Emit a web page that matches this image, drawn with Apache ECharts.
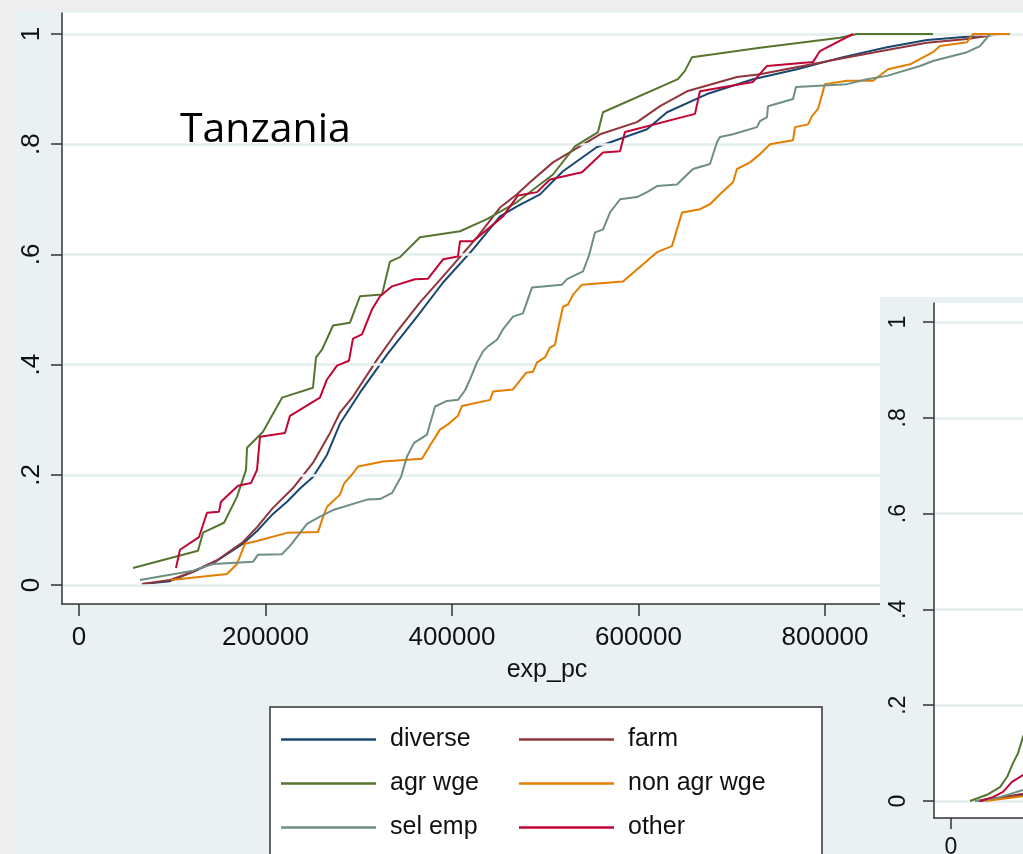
<!DOCTYPE html>
<html>
<head>
<meta charset="utf-8">
<script src="https://cdn.jsdelivr.net/npm/echarts@6/dist/echarts.min.js"></script>
<style>
  html, body { margin: 0; padding: 0; background: #eeeeee; }
  #chart { width: 1023px; height: 854px; }
</style>
</head>
<body>
<div id="chart"></div>
<script>
// Cumulative distribution of per-capita expenditure by livelihood group, Tanzania
const groupNames = ['diverse', 'farm', 'agr wge', 'non agr wge', 'sel emp', 'other'];
const groupColors = ['#1a476f', '#90353b', '#55752f', '#e37e00', '#6e8e84', '#c10534'];

const xTicks = [0, 200000, 400000, 600000, 800000];
const yTicks = [0, 0.2, 0.4, 0.6, 0.8, 1];
const yTickLabels = ['0', '.2', '.4', '.6', '.8', '1'];

// [exp_pc, cumulative share]
const diverse = [[67600,0.002],[97600,0.007],[122300,0.024],[148000,0.044],[175900,0.075],[190900,0.098],[208000,0.129],[223100,0.151],[237000,0.175],[250900,0.196],[265900,0.236],[279900,0.293],[301300,0.349],[330300,0.418],[362500,0.487],[390400,0.549],[422500,0.609],[451500,0.669],[469700,0.687],[494400,0.709],[519000,0.751],[555500,0.795],[609100,0.827],[630600,0.858],[673500,0.891],[722800,0.918],[770000,0.936],[819300,0.958],[866500,0.976],[909400,0.989],[952300,0.995],[977000,1]];
const farm = [[67600,0.002],[97600,0.009],[122300,0.024],[148000,0.045],[175900,0.078],[190900,0.105],[208000,0.140],[229500,0.176],[251000,0.222],[269200,0.276],[279900,0.313],[293800,0.342],[319600,0.409],[341000,0.460],[365700,0.513],[390400,0.560],[426800,0.631],[451500,0.685],[469700,0.709],[483600,0.731],[508300,0.767],[558700,0.818],[598400,0.840],[623100,0.869],[652000,0.896],[705600,0.922],[730300,0.927],[816100,0.955],[866500,0.971],[909400,0.984],[952300,0.991],[987700,1]];
const agrWge = [[57900,0.031],[127600,0.062],[133000,0.095],[155500,0.113],[169400,0.160],[179100,0.209],[180200,0.249],[197300,0.278],[217700,0.340],[250900,0.358],[254200,0.413],[260600,0.427],[272400,0.471],[290600,0.476],[301300,0.524],[324900,0.527],[333500,0.587],[344200,0.595],[365700,0.631],[408600,0.642],[437500,0.664],[469700,0.695],[508300,0.745],[531900,0.796],[556600,0.822],[561900,0.858],[642300,0.918],[649800,0.933],[657400,0.958],[730300,0.975],[816100,0.993],[834300,1],[915800,1]];
const nonAgrWge = [[98700,0.009],[158700,0.020],[169400,0.038],[178000,0.075],[190900,0.080],[224100,0.095],[256300,0.096],[260600,0.118],[266000,0.142],[279900,0.164],[284200,0.184],[294900,0.205],[299200,0.215],[326000,0.224],[367800,0.229],[376400,0.253],[387100,0.282],[396800,0.293],[406400,0.307],[410700,0.325],[440800,0.336],[444000,0.351],[465400,0.355],[479400,0.385],[486900,0.387],[491200,0.404],[499700,0.413],[505100,0.431],[510400,0.436],[513700,0.464],[519000,0.505],[524400,0.509],[529800,0.527],[539400,0.545],[583400,0.551],[619900,0.604],[635900,0.615],[646700,0.676],[666000,0.682],[676700,0.691],[687400,0.709],[701300,0.731],[705600,0.755],[719600,0.767],[730300,0.782],[741000,0.800],[765700,0.807],[767800,0.831],[781800,0.836],[786100,0.851],[792500,0.864],[800000,0.909],[823600,0.915],[851500,0.915],[867600,0.936],[891200,0.945],[915800,0.967],[923300,0.978],[952300,0.985],[958700,1],[998400,1]];
const selEmp = [[65400,0.009],[122300,0.026],[143700,0.038],[186600,0.042],[192000,0.055],[217700,0.056],[226300,0.071],[244500,0.111],[258400,0.124],[272400,0.136],[308900,0.155],[322800,0.156],[335700,0.167],[345300,0.196],[351700,0.233],[359300,0.258],[367800,0.267],[373200,0.273],[381800,0.324],[394600,0.334],[406400,0.336],[413900,0.353],[419300,0.373],[426800,0.404],[433300,0.424],[438600,0.433],[448300,0.445],[454700,0.464],[465400,0.487],[476100,0.493],[485800,0.540],[518000,0.545],[523300,0.555],[540500,0.569],[546900,0.598],[553400,0.640],[561900,0.645],[569400,0.676],[580200,0.700],[598400,0.704],[609100,0.713],[619900,0.724],[641300,0.727],[646700,0.736],[658400,0.755],[676700,0.764],[684200,0.804],[687400,0.813],[701300,0.818],[727100,0.831],[730300,0.842],[737800,0.849],[738900,0.869],[765700,0.882],[768900,0.904],[823600,0.909],[845000,0.918],[866500,0.924],[901900,0.942],[915800,0.951],[952300,0.967],[966200,0.978],[977000,1]];
const other = [[104000,0.031],[108300,0.064],[128700,0.087],[137300,0.131],[150100,0.133],[152300,0.151],[170500,0.180],[184400,0.185],[190900,0.209],[194100,0.269],[220900,0.276],[226300,0.307],[258400,0.340],[265900,0.373],[276700,0.398],[289500,0.407],[293800,0.447],[303500,0.455],[314200,0.500],[322800,0.524],[335700,0.542],[360300,0.555],[374300,0.556],[390400,0.591],[406400,0.596],[408600,0.624],[422500,0.624],[454700,0.669],[470800,0.707],[491200,0.713],[505100,0.736],[539400,0.749],[561900,0.785],[580200,0.787],[585500,0.822],[660600,0.855],[665900,0.896],[722800,0.913],[737800,0.942],[787100,0.949],[794600,0.969],[830000,1]];

// Second panel: lower tail of the same groups
const diverseB = [[29000,0],[77200,0.0125],[95000,0.023]];
const farmB = [[31100,0],[77200,0.015],[95000,0.025]];
const agrWgeB = [[20400,0],[38600,0.013],[52500,0.029],[60100,0.050],[66500,0.079],[71900,0.100],[77200,0.134],[84700,0.169],[95000,0.21]];
const nonAgrWgeB = [[36500,0],[77200,0.010],[95000,0.019]];
const selEmpB = [[25700,0],[52500,0.008],[77200,0.023],[95000,0.035]];
const otherB = [[31100,0],[45000,0.008],[55800,0.019],[65400,0.040],[77200,0.054],[95000,0.075]];

const mainSeries = [diverse, farm, agrWge, nonAgrWge, selEmp, other];
const insetSeries = [diverseB, farmB, agrWgeB, nonAgrWgeB, selEmpB, otherB];

const labelFont = 'Liberation Sans, Arial, Helvetica, sans-serif';
const regionColor = '#e9f1f3';
const gridColor = '#e4eef1';
const axisColor = '#333333';

function yFmt(v) {
  const i = yTicks.findIndex(t => Math.abs(t - v) < 1e-9);
  return i >= 0 ? yTickLabels[i] : '';
}
function xFmt(v) {
  return String(Math.round(v));
}

function makeX(gridIndex, min, max, z, fontSize, tickLen, margin) {
  return {
    type: 'value', gridIndex, min, max, z,
    axisLine: { show: true, onZero: false, lineStyle: { color: axisColor, width: 1.5 } },
    axisTick: { show: true, length: tickLen, customValues: xTicks, lineStyle: { color: axisColor, width: 1.5 } },
    axisLabel: { customValues: xTicks, margin, fontSize, fontFamily: labelFont, color: '#111', formatter: xFmt },
    splitLine: { show: false }
  };
}
function makeY(gridIndex, min, max, z, fontSize, tickLen, margin) {
  return {
    type: 'value', gridIndex, min, max, z,
    axisLine: { show: true, onZero: false, lineStyle: { color: axisColor, width: 1.5 } },
    axisTick: { show: true, length: tickLen, customValues: yTicks, lineStyle: { color: axisColor, width: 1.5 } },
    axisLabel: { customValues: yTicks, rotate: 90, margin, fontSize, fontFamily: labelFont, color: '#111', formatter: yFmt },
    splitLine: { show: true, lineStyle: { color: gridColor, width: 2.5 } }
  };
}

const series = [];
groupNames.forEach((name, i) => {
  series.push({
    name, type: 'line', xAxisIndex: 0, yAxisIndex: 0,
    data: mainSeries[i], showSymbol: false, symbol: 'none',
    lineStyle: { color: groupColors[i], width: 2 }, itemStyle: { color: groupColors[i] },
    z: 3 + i
  });
});
groupNames.forEach((name, i) => {
  series.push({
    name, type: 'line', xAxisIndex: 1, yAxisIndex: 1,
    data: insetSeries[i], showSymbol: false, symbol: 'none',
    lineStyle: { color: groupColors[i], width: 2 }, itemStyle: { color: groupColors[i] },
    z: 60 + i
  });
});

const legendCommon = {
  orient: 'vertical', top: 727, padding: 0, itemGap: 19,
  itemWidth: 95, itemHeight: 2.5, icon: 'rect',
  textStyle: { fontSize: 25, fontFamily: labelFont, color: '#111', padding: [0, 0, 0, 9] },
  z: 20
};

const chart = echarts.init(document.getElementById('chart'), null, { renderer: 'canvas' });
chart.setOption({
  animation: false,
  backgroundColor: '#eeeeee',
  graphic: [
    { type: 'rect', z: -5, shape: { x: 16, y: 10, width: 1010, height: 850 }, style: { fill: regionColor } },
    { type: 'text', z: 10, left: 180, top: 110, style: { text: 'Tanzania', fontSize: 41, fontFamily: 'Open Sans, Noto Sans, sans-serif', fill: '#000' } },
    { type: 'rect', z: 15, shape: { x: 270, y: 707, width: 552, height: 200 }, style: { fill: '#ffffff', stroke: '#333333', lineWidth: 1.5 } },
    { type: 'rect', z: 50, shape: { x: 880, y: 297, width: 200, height: 600 }, style: { fill: regionColor } }
  ],
  grid: [
    { left: 62, top: 13, width: 970, height: 591, show: true, backgroundColor: '#ffffff', borderWidth: 0, z: 2, containLabel: false, outerBoundsMode: 'none' },
    { left: 934, top: 303, width: 1000, height: 515, show: true, backgroundColor: '#ffffff', borderWidth: 0, z: 51, containLabel: false, outerBoundsMode: 'none' }
  ],
  xAxis: [
    Object.assign(makeX(0, -18231, 1022000, 5, 26, 12, 21), {
      name: 'exp_pc', nameLocation: 'middle', nameGap: 54,
      nameTextStyle: { fontSize: 25, fontFamily: labelFont, color: '#111' }
    }),
    makeX(1, -18231, 1054169, 55, 23, 11, 18)
  ],
  yAxis: [
    makeY(0, -0.0345, 1.0381, 5, 26, 11, 17),
    makeY(1, -0.0355, 1.0397, 55, 23, 11, 24)
  ],
  legend: [
    Object.assign({ left: 281, data: ['diverse', 'agr wge', 'sel emp'] }, legendCommon),
    Object.assign({ left: 519, data: ['farm', 'non agr wge', 'other'] }, legendCommon)
  ],
  series
});
</script>
</body>
</html>
